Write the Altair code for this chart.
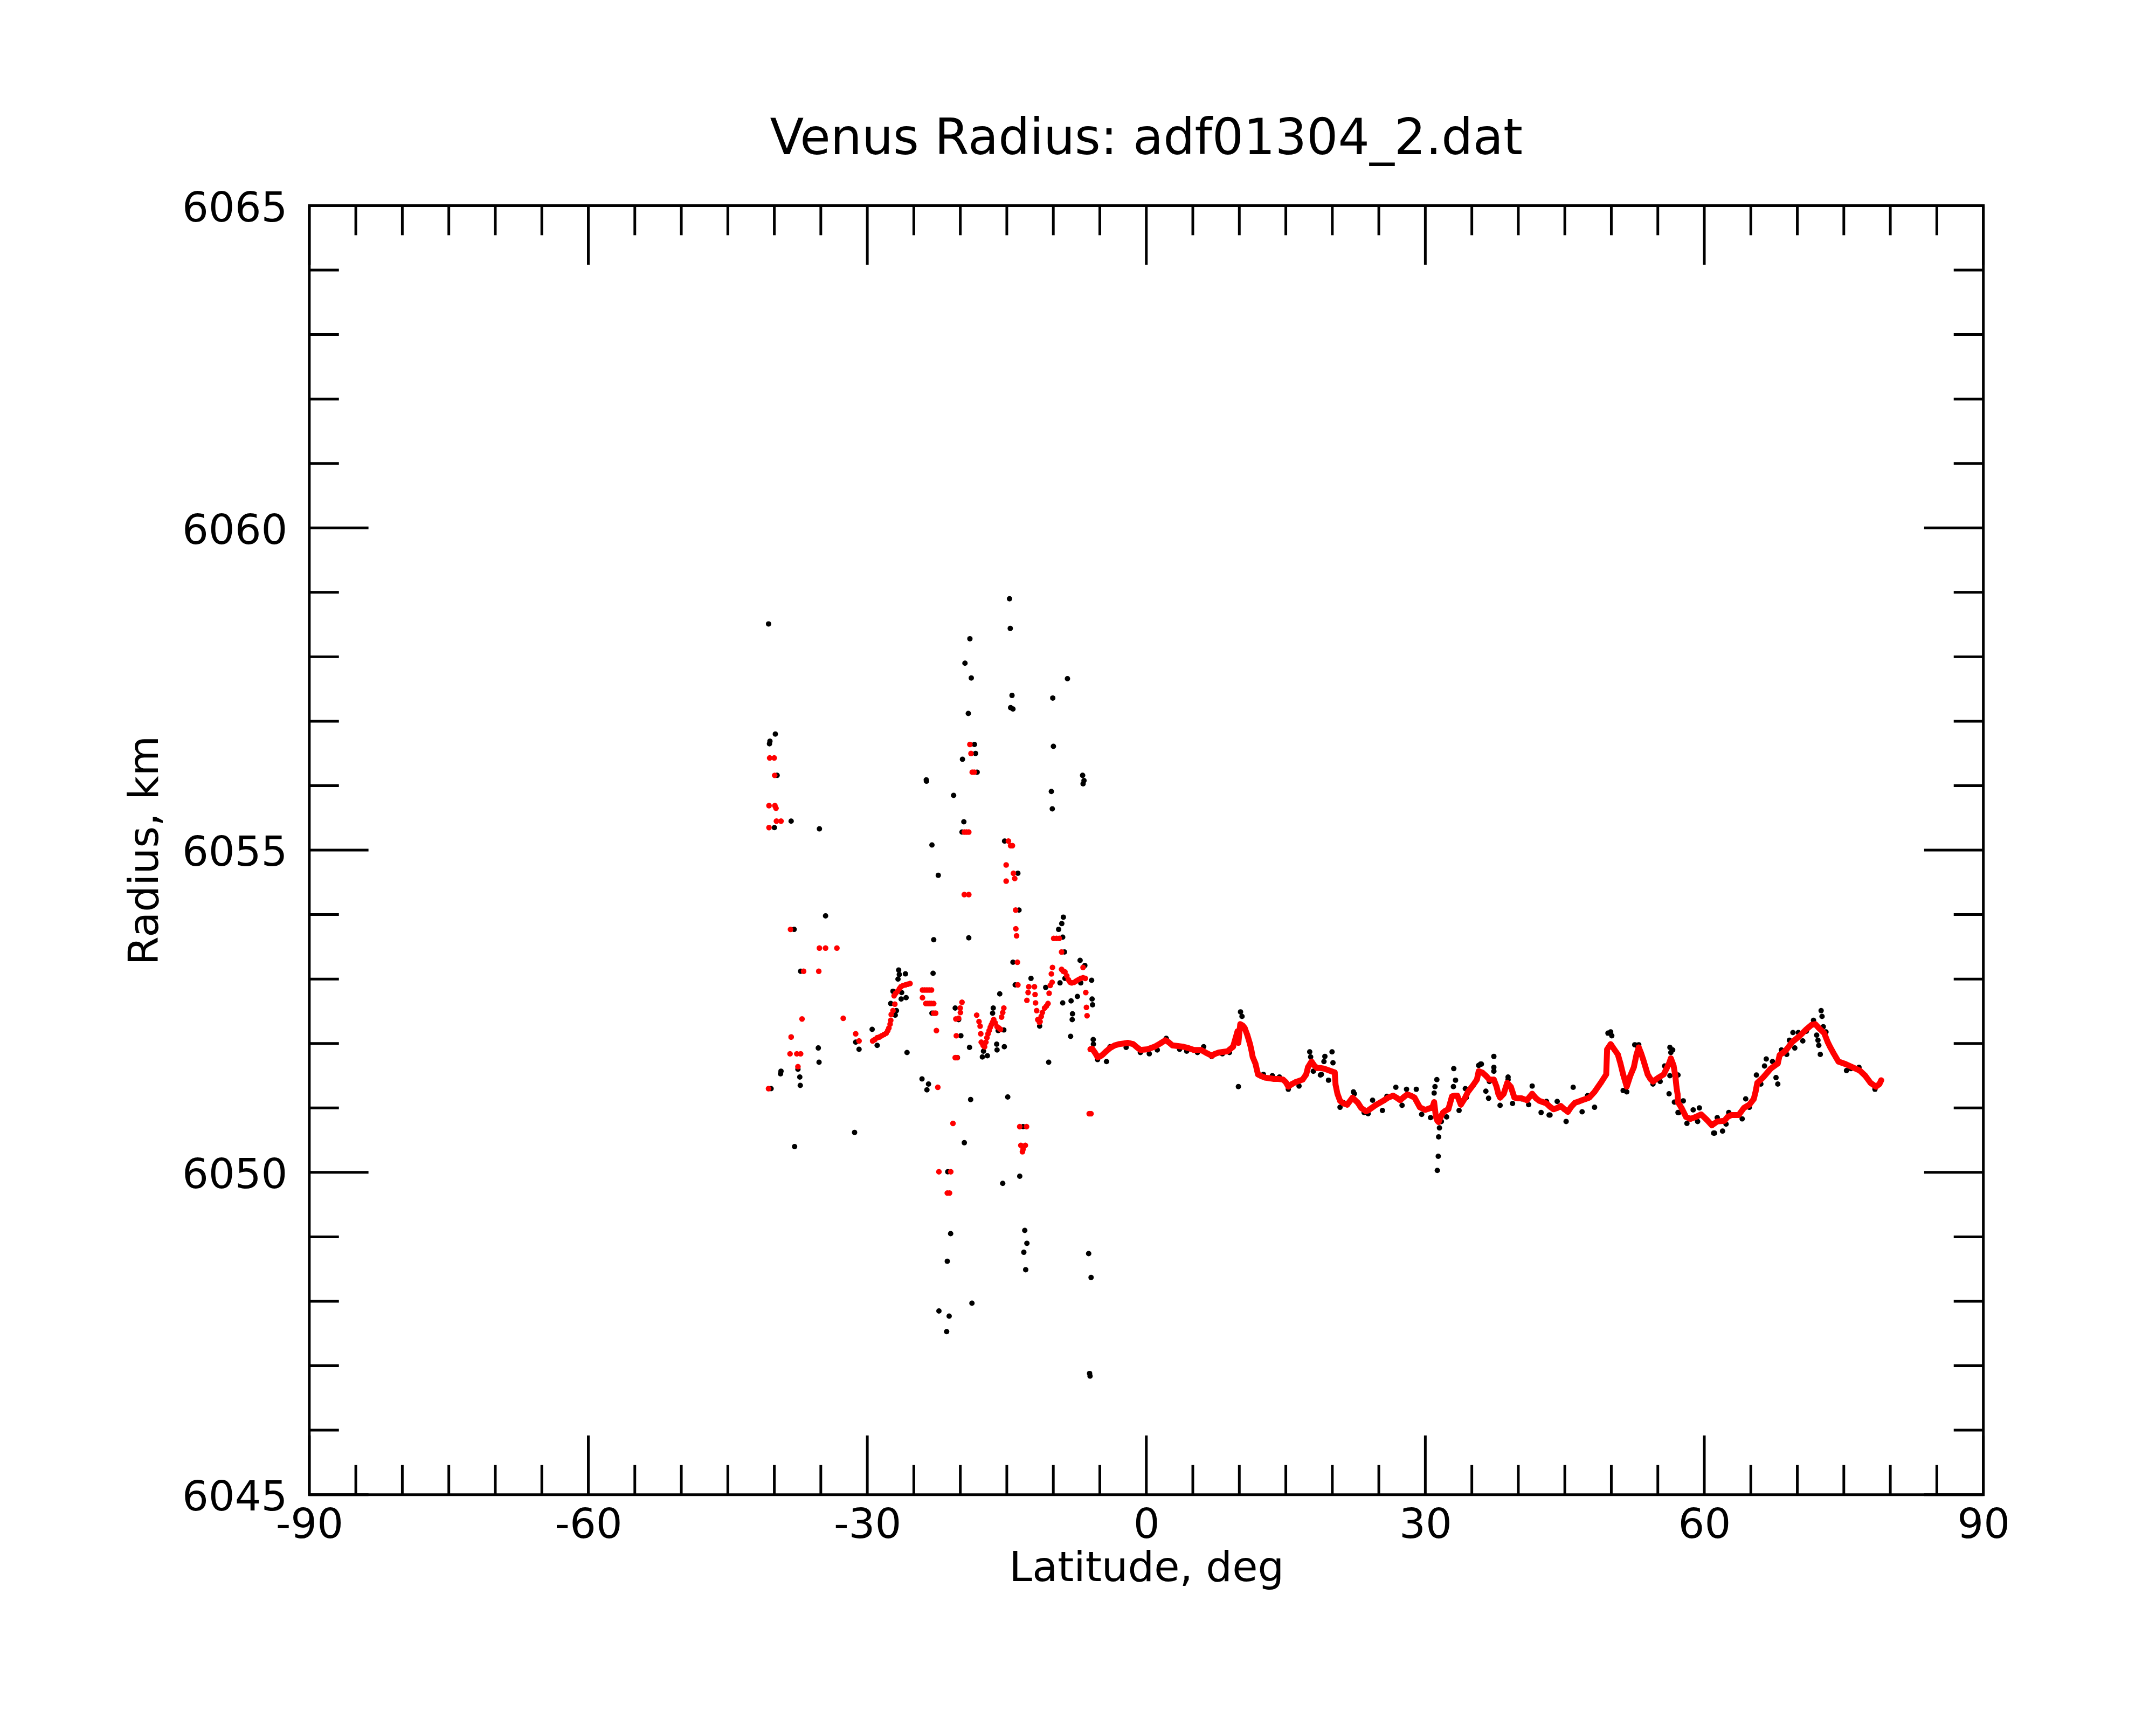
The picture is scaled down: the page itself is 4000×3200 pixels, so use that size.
import altair as alt
import pandas as pd

TITLE = "Venus Radius: adf01304_2.dat"
X_TITLE = "Latitude, deg"
Y_TITLE = "Radius, km"
X_LABELS = [-90, -60, -30, 0, 30, 60, 90]
Y_LABELS = [6045, 6050, 6055, 6060, 6065]
X_MINOR = [-85, -80, -75, -70, -65, -55, -50, -45, -40, -35, -25, -20, -15, -10, -5,
           5, 10, 15, 20, 25, 35, 40, 45, 50, 55, 65, 70, 75, 80, 85]
Y_MINOR = [6046, 6047, 6048, 6049, 6051, 6052, 6053, 6054, 6056, 6057, 6058, 6059,
           6061, 6062, 6063, 6064]

# raw radius samples (black) -- scattered part, south of ~-5 deg
black_scatter = [
    (-40.62, 6058.51), (-14.71, 6058.90), (-14.63, 6058.44), (-18.97, 6058.28), (-19.50, 6057.90),
    (-18.82, 6057.67), (-8.48, 6057.66), (-14.44, 6057.40), (-10.06, 6057.36), (-14.59, 6057.21),
    (-14.34, 6057.19), (-19.14, 6057.12), (-39.89, 6056.80), (-40.47, 6056.69), (-40.52, 6056.65),
    (-18.48, 6056.64), (-9.99, 6056.61), (-18.36, 6056.50), (-19.77, 6056.41), (-39.70, 6056.16),
    (-18.19, 6056.21), (-23.66, 6056.09), (-23.64, 6056.07), (-6.85, 6056.16), (-6.70, 6056.08),
    (-6.80, 6056.03), (-10.21, 6055.91), (-20.72, 6055.85), (-10.11, 6055.64), (-38.19, 6055.45),
    (-39.99, 6055.35), (-35.15, 6055.33), (-19.62, 6055.44), (-19.82, 6055.28), (-23.05, 6055.08),
    (-15.24, 6055.14), (-13.81, 6054.64), (-22.37, 6054.61), (-34.49, 6053.98), (-37.87, 6053.77),
    (-22.86, 6053.61), (-19.09, 6053.64), (-13.69, 6054.07), (-8.92, 6053.96), (-9.09, 6053.86),
    (-9.43, 6053.77), (-8.99, 6053.65), (-8.80, 6053.42), (-37.17, 6053.12), (-14.34, 6053.26),
    (-7.12, 6053.29), (-6.61, 6053.21), (-22.93, 6053.09), (-26.63, 6053.14), (-26.56, 6053.07),
    (-25.90, 6053.08), (-26.70, 6053.00), (-27.24, 6052.81), (-26.31, 6052.79), (-25.83, 6052.71),
    (-26.36, 6052.69), (-23.05, 6052.47), (-27.48, 6052.62), (-26.87, 6052.51), (-27.00, 6052.44),
    (-29.48, 6052.22), (-31.25, 6052.02), (-28.94, 6051.97), (-30.89, 6051.91), (-38.19, 6052.10),
    (-35.27, 6051.93), (-37.46, 6051.60), (-35.19, 6051.71), (-39.28, 6051.57), (-39.33, 6051.53),
    (-37.26, 6051.48), (-37.21, 6051.35), (-40.35, 6051.30), (-25.73, 6051.86), (-24.12, 6051.45),
    (-23.42, 6051.37), (-23.59, 6051.28), (-20.31, 6051.78), (-19.94, 6052.12), (-20.55, 6052.55),
    (-20.18, 6052.37), (-19.01, 6051.94), (-17.51, 6051.88), (-17.63, 6051.79), (-17.09, 6051.81),
    (-16.09, 6051.99), (-16.05, 6051.90), (-15.27, 6051.95), (-15.76, 6052.77), (-16.46, 6052.55),
    (-16.53, 6052.47), (-15.93, 6052.20), (-15.32, 6052.21), (-18.89, 6051.13), (-14.90, 6051.17),
    (-14.10, 6052.91), (-12.40, 6053.01), (-11.47, 6052.27), (-10.82, 6052.87), (-9.28, 6052.94),
    (-8.99, 6052.63), (-8.09, 6052.66), (-7.41, 6052.73), (-7.94, 6052.46), (-7.97, 6052.37),
    (-8.14, 6052.11), (-5.83, 6052.69), (-5.78, 6052.60), (-5.88, 6052.98), (-10.50, 6051.71),
    (-8.75, 6053.01), (-7.05, 6052.94), (-5.71, 6052.06), (-5.69, 6051.99), (-19.57, 6050.46),
    (-31.37, 6050.62), (-37.82, 6050.40), (-21.35, 6050.01), (-13.61, 6049.94), (-15.44, 6049.83),
    (-13.25, 6050.71), (-21.04, 6049.05), (-21.40, 6048.62), (-13.07, 6049.10), (-12.84, 6048.90),
    (-13.17, 6048.76), (-12.97, 6048.49), (-6.20, 6048.74), (-5.94, 6048.37), (-18.75, 6047.97),
    (-22.30, 6047.85), (-21.20, 6047.77), (-21.47, 6047.53), (-6.10, 6046.88), (-6.05, 6046.84),
]

# raw radius samples (black) -- along the smooth northern part
black_curve = [
    (-4.28, 6051.72), (10.13, 6052.49), (10.29, 6052.42), (9.90, 6051.33), (17.57, 6051.87),
    (17.67, 6051.79), (19.20, 6051.80), (19.10, 6051.72), (19.97, 6051.87), (20.07, 6051.70),
    (18.72, 6051.51), (19.59, 6051.43), (20.83, 6051.01), (22.27, 6051.25), (31.24, 6051.44),
    (31.04, 6051.33), (30.95, 6051.23), (33.06, 6051.61), (33.25, 6051.43), (33.02, 6051.33),
    (37.37, 6051.80), (37.37, 6051.63), (37.37, 6051.57), (36.80, 6051.15), (36.51, 6051.26),
    (31.52, 6050.69), (31.43, 6050.55), (31.39, 6050.25), (31.29, 6050.03), (48.20, 6051.01),
    (49.93, 6052.18), (50.05, 6052.12), (52.52, 6051.98), (35.93, 6051.68), (38.90, 6051.48),
    (41.49, 6051.34), (45.90, 6051.32), (45.14, 6050.79), (43.31, 6050.89), (34.30, 6051.30),
    (52.95, 6051.98), (56.30, 6051.94), (56.60, 6051.90), (55.73, 6051.65), (56.30, 6051.50),
    (57.17, 6051.51), (56.21, 6051.22), (56.78, 6051.09), (57.74, 6051.11), (57.17, 6050.93),
    (58.13, 6050.76), (58.80, 6050.97), (59.47, 6051.00), (61.00, 6050.61), (61.96, 6050.64),
    (61.39, 6050.85), (64.45, 6051.14), (65.60, 6051.51), (66.66, 6051.76), (67.33, 6051.72),
    (66.47, 6051.65), (67.71, 6051.47), (67.90, 6051.37), (69.53, 6052.17), (70.11, 6052.17),
    (69.73, 6051.93), (71.74, 6052.36), (72.56, 6052.51), (72.66, 6052.42), (72.79, 6052.26),
    (73.08, 6052.18), (72.08, 6052.13), (72.22, 6052.05), (72.31, 6051.97), (72.47, 6051.83),
    (-5.24, 6051.75), (-3.90, 6051.95), (-2.17, 6051.94), (-0.64, 6051.86), (0.32, 6051.84),
    (1.18, 6051.90), (2.14, 6052.08), (3.58, 6051.91), (4.34, 6051.88), (5.50, 6051.86),
    (6.17, 6051.95), (7.03, 6051.80), (8.18, 6051.84), (8.94, 6051.86), (12.59, 6051.52),
    (13.55, 6051.50), (14.31, 6051.48), (15.27, 6051.29), (16.42, 6051.34), (17.96, 6051.57),
    (18.82, 6051.52), (21.22, 6051.08), (22.37, 6051.22), (23.42, 6050.93), (23.85, 6050.91),
    (24.33, 6051.12), (25.39, 6050.96), (25.87, 6051.18), (26.83, 6051.32), (27.50, 6051.04),
    (27.98, 6051.29), (29.03, 6051.29), (29.61, 6050.90), (30.56, 6050.85), (31.72, 6050.79),
    (32.29, 6050.86), (33.63, 6050.96), (34.40, 6051.16), (35.74, 6051.66), (36.03, 6051.68),
    (36.89, 6051.41), (38.04, 6051.04), (38.90, 6051.44), (39.38, 6051.07), (40.34, 6051.14),
    (41.11, 6051.05), (42.45, 6050.93), (43.03, 6051.10), (43.41, 6050.89), (44.18, 6051.10),
    (46.86, 6050.94), (47.44, 6051.19), (49.64, 6052.16), (51.27, 6051.27), (51.66, 6051.25),
    (52.71, 6051.97), (54.48, 6051.37), (55.25, 6051.41), (55.83, 6051.63), (56.40, 6051.86),
    (57.26, 6050.93), (59.28, 6050.79), (61.10, 6050.61), (62.34, 6050.75), (62.63, 6050.93),
    (64.07, 6050.83), (64.84, 6051.01), (66.08, 6051.37), (68.29, 6051.90), (68.86, 6051.83),
    (69.15, 6052.05), (70.59, 6052.04), (70.97, 6052.19), (75.29, 6051.58), (75.77, 6051.61),
    (76.63, 6051.63), (78.35, 6051.29),
]

# filtered radius (red) -- scattered part
red_scatter = [
    (-40.50, 6056.43), (-40.01, 6056.43), (-39.96, 6056.16), (-40.57, 6055.69), (-39.94, 6055.69),
    (-39.82, 6055.65), (-39.77, 6055.45), (-39.28, 6055.45), (-40.57, 6055.35), (-38.26, 6053.77),
    (-35.15, 6053.48), (-34.49, 6053.48), (-33.27, 6053.48), (-36.85, 6053.12), (-35.22, 6053.12),
    (-37.02, 6052.38), (-32.59, 6052.39), (-38.19, 6052.10), (-38.31, 6051.84), (-37.58, 6051.84),
    (-37.17, 6051.84), (-37.46, 6051.64), (-40.62, 6051.30), (-31.25, 6052.15), (-30.89, 6052.04),
    (-29.43, 6052.04), (-29.20, 6052.06), (-28.94, 6052.09), (-28.70, 6052.10), (-28.46, 6052.12),
    (-28.20, 6052.14), (-27.97, 6052.16), (-27.80, 6052.20), (-27.68, 6052.24), (-27.55, 6052.30),
    (-27.48, 6052.36), (-27.43, 6052.45), (-27.24, 6052.51), (-27.04, 6052.61), (-27.12, 6052.74),
    (-26.95, 6052.78), (-26.75, 6052.81), (-26.55, 6052.85), (-26.39, 6052.88), (-26.15, 6052.90),
    (-25.90, 6052.91), (-25.65, 6052.92), (-25.41, 6052.93), (-24.07, 6052.83), (-23.83, 6052.83),
    (-23.59, 6052.83), (-23.35, 6052.83), (-23.10, 6052.83), (-24.07, 6052.71), (-23.71, 6052.62),
    (-23.50, 6052.62), (-23.30, 6052.62), (-23.10, 6052.62), (-22.86, 6052.62), (-22.86, 6052.47),
    (-22.65, 6052.47), (-22.57, 6052.20), (-22.42, 6051.32), (-20.55, 6051.78), (-20.35, 6051.78),
    (-20.43, 6052.12), (-19.82, 6052.64), (-20.01, 6052.55), (-19.99, 6052.48), (-20.18, 6052.39),
    (-20.48, 6052.38), (-18.24, 6052.44), (-17.99, 6052.34), (-17.87, 6052.27), (-17.80, 6052.15),
    (-17.75, 6052.02), (-17.55, 6051.97), (-17.39, 6051.95), (-17.25, 6052.02), (-17.14, 6052.09),
    (-17.02, 6052.15), (-16.90, 6052.20), (-16.78, 6052.25), (-16.66, 6052.29), (-16.53, 6052.33),
    (-16.41, 6052.37), (-16.25, 6052.32), (-16.05, 6052.26), (-15.85, 6052.24), (-15.68, 6052.22),
    (-15.56, 6052.41), (-15.44, 6052.48), (-15.32, 6052.55), (-13.81, 6052.91), (-12.64, 6052.88),
    (-12.03, 6052.88), (-12.71, 6052.79), (-11.96, 6052.76), (-12.84, 6052.67), (-11.91, 6052.63),
    (-11.79, 6052.51), (-11.67, 6052.37), (-11.50, 6052.33), (-11.42, 6052.34), (-11.30, 6052.42),
    (-11.18, 6052.48), (-10.94, 6052.55), (-10.75, 6052.58), (-10.57, 6052.62), (-10.45, 6052.78),
    (-10.33, 6052.90), (-10.13, 6052.95), (-10.21, 6053.08), (-10.09, 6053.18), (-9.11, 6053.15),
    (-8.93, 6053.12), (-8.75, 6053.11), (-8.55, 6053.05), (-8.38, 6052.99), (-8.20, 6052.95),
    (-8.02, 6052.94), (-7.75, 6052.95), (-7.53, 6052.97), (-7.30, 6052.99), (-7.05, 6053.01),
    (-6.80, 6053.02), (-6.56, 6053.01), (-6.80, 6053.18), (-6.51, 6052.79), (-6.44, 6052.56),
    (-6.37, 6052.43), (-9.96, 6053.63), (-9.66, 6053.63), (-9.36, 6053.63), (-9.11, 6053.42),
    (-14.03, 6053.78), (-13.95, 6053.67), (-14.05, 6054.07), (-13.86, 6053.26), (-13.61, 6050.71),
    (-12.88, 6050.71), (-13.49, 6050.42), (-13.01, 6050.42), (-13.32, 6050.32), (-13.25, 6050.36),
    (-20.79, 6050.76), (-22.30, 6050.01), (-21.03, 6050.01), (-21.40, 6049.68), (-21.16, 6049.68),
    (-6.14, 6050.91), (-5.95, 6050.91), (-18.97, 6056.64), (-18.85, 6056.50), (-18.72, 6056.21),
    (-18.50, 6056.21), (-19.57, 6055.28), (-19.33, 6055.28), (-19.09, 6055.28), (-14.83, 6055.14),
    (-14.59, 6055.07), (-14.40, 6055.07), (-15.07, 6054.77), (-14.29, 6054.64), (-14.15, 6054.56),
    (-15.07, 6054.52), (-19.57, 6054.31), (-19.09, 6054.31),
]

# filtered radius (red) -- continuous northern track
red_curve = [
    (-6.01, 6051.91), (-5.83, 6051.92), (-5.53, 6051.86), (-5.24, 6051.79), (-4.95, 6051.80),
    (-4.67, 6051.83), (-4.30, 6051.88), (-3.90, 6051.93), (-3.40, 6051.97), (-2.94, 6051.99),
    (-2.40, 6052.00), (-1.98, 6052.01), (-1.41, 6051.99), (-1.00, 6051.94), (-0.64, 6051.90),
    (0.13, 6051.91), (0.89, 6051.95), (1.50, 6052.00), (2.04, 6052.05), (2.40, 6052.02),
    (2.81, 6051.97), (3.40, 6051.96), (3.96, 6051.95), (4.50, 6051.93), (5.11, 6051.90),
    (5.88, 6051.90), (6.50, 6051.85), (7.03, 6051.81), (7.40, 6051.84), (7.80, 6051.86),
    (8.30, 6051.87), (8.75, 6051.88), (9.33, 6051.95), (9.90, 6052.01), (9.81, 6052.19),
    (10.10, 6052.30), (10.35, 6052.28), (10.58, 6052.24), (10.86, 6052.13), (11.15, 6051.99),
    (11.28, 6051.91), (11.44, 6051.79), (11.73, 6051.69), (12.01, 6051.52), (12.40, 6051.49),
    (12.78, 6051.47), (13.26, 6051.46), (13.74, 6051.45), (14.20, 6051.45), (14.70, 6051.44),
    (15.00, 6051.40), (15.27, 6051.33), (15.65, 6051.37), (16.04, 6051.40), (16.43, 6051.42),
    (16.81, 6051.44), (17.19, 6051.52), (17.38, 6051.63), (17.76, 6051.72), (18.05, 6051.66),
    (18.34, 6051.62), (18.72, 6051.62), (19.11, 6051.61), (19.68, 6051.58), (20.26, 6051.55),
    (20.35, 6051.36), (20.55, 6051.22), (20.83, 6051.11), (21.20, 6051.07), (21.60, 6051.05),
    (22.17, 6051.16), (22.75, 6051.08), (23.10, 6051.00), (23.60, 6050.95), (23.85, 6050.96),
    (24.62, 6051.04), (25.10, 6051.08), (25.58, 6051.12), (26.00, 6051.16), (26.54, 6051.19),
    (26.90, 6051.16), (27.30, 6051.12), (27.70, 6051.17), (28.07, 6051.21), (28.45, 6051.19),
    (28.84, 6051.16), (29.41, 6051.01), (29.99, 6050.97), (30.40, 6050.99), (30.76, 6051.01),
    (30.95, 6051.09), (31.14, 6050.86), (31.30, 6050.80), (31.43, 6050.78), (31.65, 6050.86),
    (31.91, 6050.93), (32.20, 6050.96), (32.48, 6050.98), (32.87, 6051.18), (33.15, 6051.19),
    (33.44, 6051.19), (33.82, 6051.05), (34.21, 6051.14), (34.59, 6051.25), (35.17, 6051.36),
    (35.55, 6051.44), (35.74, 6051.57), (36.12, 6051.55), (36.51, 6051.50), (36.89, 6051.44),
    (37.37, 6051.44), (37.66, 6051.33), (37.85, 6051.22), (38.04, 6051.16), (38.43, 6051.22),
    (38.81, 6051.39), (39.19, 6051.33), (39.58, 6051.16), (40.00, 6051.15), (40.34, 6051.15),
    (40.92, 6051.12), (41.49, 6051.22), (41.90, 6051.15), (42.26, 6051.11), (42.65, 6051.09),
    (43.03, 6051.07), (43.40, 6051.02), (43.79, 6050.98), (44.20, 6051.00), (44.56, 6051.03),
    (44.95, 6050.98), (45.33, 6050.94), (45.70, 6051.02), (46.09, 6051.08), (46.50, 6051.10),
    (46.86, 6051.12), (47.25, 6051.14), (47.63, 6051.16), (48.20, 6051.25), (48.87, 6051.39),
    (49.45, 6051.52), (49.55, 6051.91), (49.93, 6051.99), (50.31, 6051.91), (50.70, 6051.83),
    (50.98, 6051.69), (51.27, 6051.52), (51.66, 6051.33), (52.04, 6051.50), (52.42, 6051.63),
    (52.71, 6051.83), (52.95, 6051.94), (53.20, 6051.85), (53.43, 6051.75), (53.91, 6051.52),
    (54.20, 6051.45), (54.48, 6051.41), (55.06, 6051.47), (55.63, 6051.52), (55.90, 6051.60),
    (56.21, 6051.69), (56.40, 6051.77), (56.69, 6051.66), (56.88, 6051.50), (57.01, 6051.32),
    (57.13, 6051.21), (57.17, 6051.09), (57.55, 6051.00), (58.03, 6050.86), (58.51, 6050.83),
    (59.09, 6050.86), (59.66, 6050.90), (60.24, 6050.82), (60.81, 6050.73), (61.39, 6050.79),
    (62.15, 6050.80), (62.50, 6050.86), (62.92, 6050.89), (63.69, 6050.89), (64.26, 6051.00),
    (64.84, 6051.05), (65.32, 6051.14), (65.51, 6051.25), (65.70, 6051.39), (66.00, 6051.43),
    (66.37, 6051.48), (67.14, 6051.61), (67.90, 6051.69), (68.10, 6051.82), (68.50, 6051.86),
    (68.86, 6051.91), (69.44, 6052.02), (70.20, 6052.11), (70.97, 6052.22), (71.55, 6052.29),
    (71.93, 6052.30), (72.31, 6052.24), (72.89, 6052.16), (73.27, 6052.02), (73.55, 6051.94),
    (73.85, 6051.86), (74.42, 6051.72), (75.19, 6051.68), (75.96, 6051.63), (76.72, 6051.58),
    (77.30, 6051.50), (77.87, 6051.39), (78.45, 6051.33), (78.83, 6051.37), (79.02, 6051.43),
]

W, H = 3112, 2396
FONT = "DejaVu Sans"
MAJOR, MINOR = 110, 55


def frame(points):
    return pd.DataFrame(points, columns=["lat", "radius"])


xs = alt.Scale(domain=[-90, 90], nice=False, zero=False)
ys = alt.Scale(domain=[6045, 6065], nice=False, zero=False)

x_axis = alt.Axis(
    values=X_LABELS, labelExpr="'' + datum.value", title=X_TITLE,
    domain=False, ticks=False, tickSize=0, grid=False,
    labelPadding=19, labelFontSize=77, labelFont=FONT, labelColor="black", labelLimit=0,
    labelFlush=False, labelOverlap=False, labelBound=False,
    titleFontSize=77, titleFont=FONT, titleFontWeight="normal", titleColor="black",
    titleX=W / 2, titleY=160, titleBaseline="alphabetic", titleAlign="center", titleLimit=0,
)
y_axis = alt.Axis(
    values=Y_LABELS, format="d", title=Y_TITLE,
    domain=False, ticks=False, tickSize=0, grid=False,
    labelPadding=41, labelOffset=6, labelFontSize=77, labelFont=FONT, labelColor="black",
    labelLimit=0, labelFlush=False, labelOverlap=False, labelBound=False,
    titleFontSize=77, titleFont=FONT, titleFontWeight="normal", titleColor="black",
    titleX=-266, titleY=H / 2, titleAngle=270, titleBaseline="bottom", titleAlign="center",
    titleLimit=0,
)

X = alt.X("lat:Q", scale=xs, axis=x_axis)
Y = alt.Y("radius:Q", scale=ys, axis=y_axis)

black_df = frame(black_scatter + black_curve)
red_pts_df = frame(red_scatter + red_curve)
red_line_df = frame(red_curve)

black_layer = alt.Chart(black_df).mark_circle(size=100, color="black", opacity=1).encode(x=X, y=Y)
red_line = alt.Chart(red_line_df).mark_line(
    color="#ff0000", strokeWidth=11, strokeCap="round", strokeJoin="round"
).encode(x=X, y=Y)
red_layer = alt.Chart(red_pts_df).mark_circle(size=110, color="#ff0000", opacity=1).encode(x=X, y=Y)

xmaj = pd.DataFrame({"lat": X_LABELS})
xmin = pd.DataFrame({"lat": X_MINOR})
ymaj = pd.DataFrame({"radius": Y_LABELS})
ymin = pd.DataFrame({"radius": Y_MINOR})

rule = dict(color="black", strokeWidth=5)
tick_layers = [
    alt.Chart(xmaj).mark_rule(**rule).encode(x=X, y=alt.value(H), y2=alt.value(H - MAJOR)),
    alt.Chart(xmaj).mark_rule(**rule).encode(x=X, y=alt.value(0), y2=alt.value(MAJOR)),
    alt.Chart(xmin).mark_rule(**rule).encode(x=X, y=alt.value(H), y2=alt.value(H - MINOR)),
    alt.Chart(xmin).mark_rule(**rule).encode(x=X, y=alt.value(0), y2=alt.value(MINOR)),
    alt.Chart(ymaj).mark_rule(**rule).encode(y=Y, x=alt.value(0), x2=alt.value(MAJOR)),
    alt.Chart(ymaj).mark_rule(**rule).encode(y=Y, x=alt.value(W), x2=alt.value(W - MAJOR)),
    alt.Chart(ymin).mark_rule(**rule).encode(y=Y, x=alt.value(0), x2=alt.value(MINOR)),
    alt.Chart(ymin).mark_rule(**rule).encode(y=Y, x=alt.value(W), x2=alt.value(W - MINOR)),
]

title_layer = alt.Chart(pd.DataFrame({"title": [TITLE]})).mark_text(
    font=FONT, fontSize=92, color="black", align="center", baseline="alphabetic"
).encode(text="title:N", x=alt.value(W / 2), y=alt.value(-96))

chart = alt.layer(black_layer, red_line, red_layer, *tick_layers, title_layer).properties(
    width=W,
    height=H,
    autosize=alt.AutoSizeParams(type="none"),
    padding={"left": 567, "top": 371, "right": 313, "bottom": 425},
    background="white",
).configure_view(stroke="black", strokeWidth=5)

chart.save("out.html", embed_options={"renderer": "svg", "actions": False})
